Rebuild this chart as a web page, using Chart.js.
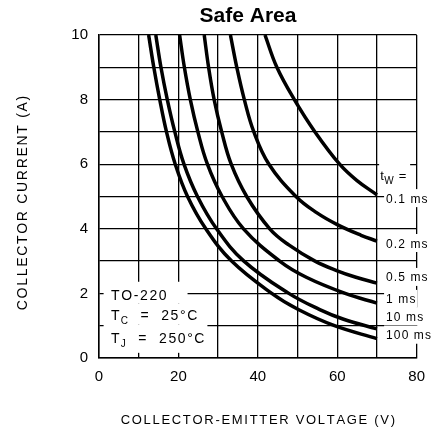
<!DOCTYPE html>
<html>
<head>
<meta charset="utf-8">
<script src="https://cdn.jsdelivr.net/npm/chart.js@4.4.0/dist/chart.umd.min.js"></script>
<style>
html, body { margin: 0; padding: 0; background: #fff; }
</style>
</head>
<body>
<canvas id="soa" width="435" height="436"></canvas>
<script>
// pulse widths, one curve each
const pulseWidths = ['0.1 ms', '0.2 ms', '0.5 ms', '1 ms', '10 ms', '100 ms'];

// collector-emitter voltage (V) / collector current (A)
const volts01 = [41.8, 44.8, 49.2, 54.4, 60.6, 64.9, 70];
const amps01  = [10, 9, 8, 7, 6, 5.5, 5.05];

const volts02 = [33.1, 34.7, 36.6, 39.0, 42.8, 49.6, 54.8, 60, 66, 70];
const amps02  = [10, 9, 8, 7, 6, 5, 4.5, 4.13, 3.8, 3.62];

const volts05 = [26.5, 27.6, 29.0, 30.9, 33.3, 37.2, 43.0, 47.8, 54.4, 60, 64.7, 70];
const amps05  = [10, 9, 8, 7, 6, 5, 4, 3.5, 3, 2.7, 2.5, 2.32];

const volts1 = [20.3, 21.5, 23.0, 24.9, 27.3, 31.0, 36.4, 45.5, 52.2, 62, 70];
const amps1  = [10, 9, 8, 7, 6, 5, 4, 3, 2.5, 2, 1.7];

const volts10 = [14.3, 15.6, 17.2, 19.1, 21.4, 24.8, 29.6, 36.5, 47.8, 55.6, 61.6, 70];
const amps10  = [10, 9, 8, 7, 6, 5, 4, 3, 2, 1.5, 1.2, 0.9];

const volts100 = [12.5, 13.8, 15.3, 17.0, 19.2, 22.3, 26.9, 33.4, 43.5, 50.2, 59.3, 70];
const amps100  = [10, 9, 8, 7, 6, 5, 4, 3, 2, 1.5, 1, 0.6];

// where the pulse width labels sit (A), right of the 70 V line
const labelAmps = [4.95, 3.56, 2.51, 1.83, 1.29, 0.72];

const xTicks = [0, 20, 40, 60, 80];
const yTicks = [0, 2, 4, 6, 8, 10];

const curves = [
	[volts01, amps01],
	[volts02, amps02],
	[volts05, amps05],
	[volts1, amps1],
	[volts10, amps10],
	[volts100, amps100]
];

function spacedWidth(ctx, text, sp){
	let w = 0;
	for (const ch of text) w += ctx.measureText(ch).width + sp;
	return w - sp;
}

function drawSpaced(ctx, text, x, y, sp){
	for (const ch of text){
		ctx.fillText(ch, x, y);
		x += ctx.measureText(ch).width + sp;
	}
	return x - sp;
}

const labelsPlugin = {
	id: 'labels',
	afterDraw(chart){
		const ctx = chart.ctx;
		const xs = chart.scales.x, ys = chart.scales.y;
		const area = chart.chartArea;
		ctx.save();
		ctx.fillStyle = '#000';
		ctx.textAlign = 'left';
		ctx.textBaseline = 'alphabetic';

		// title
		ctx.font = 'bold 21px "Liberation Sans", Arial, sans-serif';
		ctx.textAlign = 'center';
		ctx.fillText('Safe Area', 248, 22);
		ctx.textAlign = 'left';

		// axis titles
		ctx.font = '13px "Liberation Sans", Arial, sans-serif';
		const xt = 'COLLECTOR-EMITTER VOLTAGE (V)';
		const xw = spacedWidth(ctx, xt, 1.7);
		drawSpaced(ctx, xt, (area.left + area.right) / 2 - xw / 2, 424, 1.7);

		ctx.font = '14px "Liberation Sans", Arial, sans-serif';
		const yt = 'COLLECTOR CURRENT (A)';
		const yw = spacedWidth(ctx, yt, 1.7);
		ctx.save();
		ctx.translate(26.5, 203);
		ctx.rotate(-Math.PI / 2);
		drawSpaced(ctx, yt, -yw / 2, 0, 1.7);
		ctx.restore();

		// pulse width labels with white boxes
		ctx.font = '12px "Liberation Sans", Arial, sans-serif';
		const lx = xs.getPixelForValue(72.3);
		pulseWidths.forEach((txt, k) => {
			const cy = ys.getPixelForValue(labelAmps[k]);
			const w = spacedWidth(ctx, txt, 1.1);
			ctx.fillStyle = '#fff';
			ctx.fillRect(lx - 2, cy - 9, w + 4, 18);
			ctx.fillStyle = '#000';
			drawSpaced(ctx, txt, lx, cy + 4.5, 1.1);
		});

		// t_W =
		const tx = xs.getPixelForValue(70.8);
		const ty = ys.getPixelForValue(5.64);
		ctx.fillStyle = '#fff';
		ctx.fillRect(tx - 1, ty - 13, 31, 27);
		ctx.fillStyle = '#000';
		ctx.font = '13px "Liberation Sans", Arial, sans-serif';
		ctx.fillText('t', tx, ty + 4);
		let ex = tx + ctx.measureText('t').width + 0.5;
		ctx.font = '10px "Liberation Sans", Arial, sans-serif';
		ctx.fillText('W', ex, ty + 8);
		ex += ctx.measureText('W').width + 5;
		ctx.font = '13px "Liberation Sans", Arial, sans-serif';
		ctx.fillText('=', ex, ty + 4);

		// package / temperature block
		const boxes = [[1.16, 22.3, 2.36, 1.68], [1.16, 26.0, 1.68, 1.03], [1.16, 27.3, 1.03, 0.16]];
		ctx.fillStyle = '#fff';
		boxes.forEach(b => {
			const x0 = xs.getPixelForValue(b[0]), x1 = xs.getPixelForValue(b[1]);
			const y0 = ys.getPixelForValue(b[2]), y1 = ys.getPixelForValue(b[3]);
			ctx.fillRect(x0, y0, x1 - x0, y1 - y0);
		});
		ctx.fillStyle = '#000';
		const bx = xs.getPixelForValue(3.05);
		const sp = 1.6;
		ctx.font = '14px "Liberation Sans", Arial, sans-serif';
		drawSpaced(ctx, 'TO-220', bx, ys.getPixelForValue(1.96) + 5, sp);

		const sub = (main, s, rest, amps) => {
			const by = ys.getPixelForValue(amps) + 5;
			ctx.font = '14px "Liberation Sans", Arial, sans-serif';
			let x = drawSpaced(ctx, main, bx, by, sp) + 1;
			ctx.font = '10px "Liberation Sans", Arial, sans-serif';
			ctx.fillText(s, x, by + 4);
			x += ctx.measureText(s).width + sp;
			ctx.font = '14px "Liberation Sans", Arial, sans-serif';
			drawSpaced(ctx, rest, x, by, sp);
		};
		sub('T', 'C', '  =  25°C', 1.34);
		sub('T', 'J', '  =  250°C', 0.63);

		ctx.restore();
	}
};

const tickFont = { family: '"Liberation Sans", Arial, sans-serif', size: 15 };

new Chart(document.getElementById('soa'), {
	type: 'line',
	data: {
		datasets: curves.map((c, k) => ({
			label: pulseWidths[k],
			data: c[0].map((v, j) => ({ x: v, y: c[1][j] })),
			borderColor: '#000',
			borderWidth: 3.5,
			pointRadius: 0,
			fill: false,
			tension: 0.4
		}))
	},
	options: {
		responsive: false,
		animation: false,
		layout: { padding: { top: 35, right: 11, left: 0, bottom: 0 } },
		plugins: {
			legend: { display: false },
			title: { display: false },
			tooltip: { enabled: false }
		},
		scales: {
			x: {
				type: 'linear',
				min: 0,
				max: 80,
				ticks: {
					stepSize: 10,
					autoSkip: false,
					maxRotation: 0,
					color: '#000',
					font: tickFont,
					padding: 10,
					callback: v => xTicks.includes(v) ? v : ''
				},
				grid: { color: '#000', lineWidth: 1.3, drawTicks: false },
				border: { color: '#000', width: 1.5 },
				afterFit: s => { s.height = 78; }
			},
			y: {
				min: 0,
				max: 10,
				ticks: {
					stepSize: 1,
					autoSkip: false,
					color: '#000',
					font: tickFont,
					padding: 11,
					callback: v => yTicks.includes(v) ? v : ''
				},
				grid: { color: '#000', lineWidth: 1.3, drawTicks: false },
				border: { color: '#000', width: 1.5 },
				afterFit: s => { s.width = 99; }
			}
		}
	},
	plugins: [labelsPlugin]
});
</script>
</body>
</html>
